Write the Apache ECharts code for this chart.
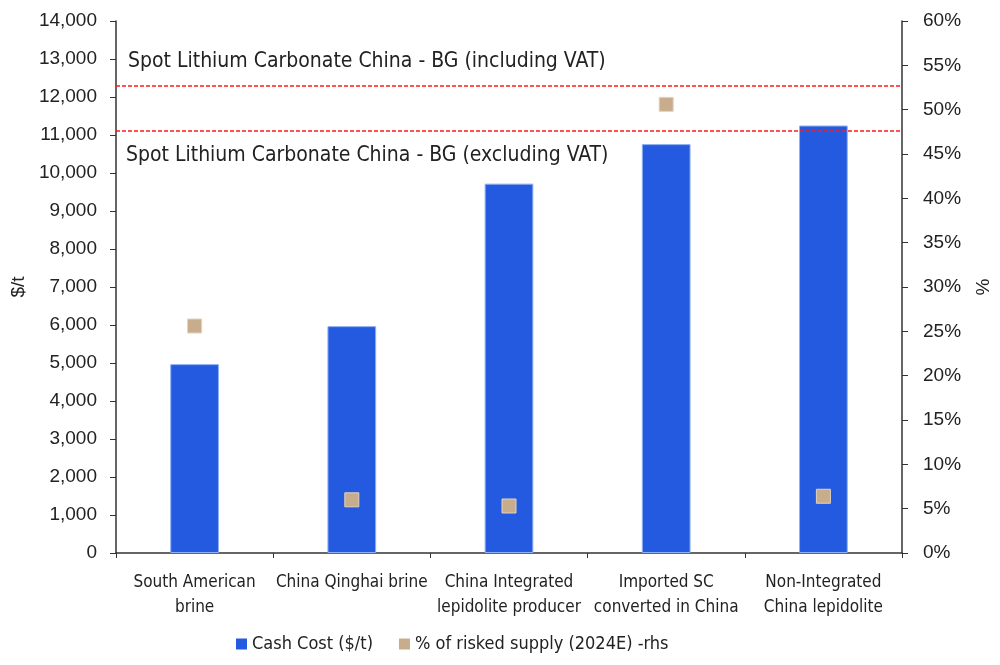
<!DOCTYPE html>
<html>
<head>
<meta charset="utf-8">
<script src="https://cdn.jsdelivr.net/npm/echarts@6/dist/echarts.min.js"></script>
<style>
  html, body { margin: 0; padding: 0; background: #fff; }
  #chart { width: 1000px; height: 665px; }
</style>
</head>
<body>
<div id="chart"></div>
<script>
var categories = ['South American\nbrine', 'China Qinghai brine', 'China Integrated\nlepidolite producer', 'Imported SC\nconverted in China', 'Non-Integrated\nChina lepidolite'];
var cashCost = [4970, 5970, 9720, 10760, 11250];
var riskedSupply = [25.6, 6.0, 5.3, 50.6, 6.4];
var spotInclVat = 12290;
var spotExclVat = 11110;

var narrow = '"Liberation Sans Narrow", "DejaVu Sans Condensed", sans-serif';
var plain = '"Liberation Sans", Arial, sans-serif';
var axisColor = '#333';

var dom_chart = document.getElementById('chart');
var chart = echarts.init(dom_chart);

var option = {
    animation: false,
    textStyle: {fontFamily: narrow},
    grid: {left: 116, right: 98, top: 21, bottom: 112, containLabel: false, outerBoundsMode: 'none'},
    legend: {
        bottom: 7, left: 231, itemWidth: 11, itemHeight: 11, itemGap: 26,
        textStyle: {fontSize: 18, color: '#222', fontFamily: narrow},
        itemStyle: {borderWidth: 0},
        data: [
            {name: 'Cash Cost ($/t)', icon: 'rect'},
            {name: '% of risked supply (2024E) -rhs', icon: 'rect'}
        ]
    },
    xAxis: {
        type: 'category',
        data: categories,
        axisLine: {lineStyle: {color: axisColor, width: 1.5}},
        axisTick: {show: true, length: 5, lineStyle: {color: axisColor}},
        axisLabel: {fontSize: 17, color: '#222', margin: 17, lineHeight: 25, interval: 0}
    },
    yAxis: [{
        type: 'value', min: 0, max: 14000, interval: 1000,
        name: '$/t', nameLocation: 'middle', nameGap: 86, nameRotate: 90,
        nameTextStyle: {fontSize: 19, color: '#222', fontFamily: plain},
        axisLine: {show: true, lineStyle: {color: axisColor, width: 1.5}},
        axisTick: {show: true, length: 6, lineStyle: {color: axisColor}},
        axisLabel: {fontSize: 19, color: '#222', margin: 19, fontFamily: plain,
            formatter: function (v) { return v.toLocaleString('en-US'); }},
        splitLine: {show: false}
    }, {
        type: 'value', min: 0, max: 60, interval: 5, position: 'right',
        name: '%', nameLocation: 'middle', nameGap: 72, nameRotate: 90,
        nameTextStyle: {fontSize: 19, color: '#222', fontFamily: plain},
        axisLine: {show: true, lineStyle: {color: axisColor, width: 1.5}},
        axisTick: {show: true, length: 6, lineStyle: {color: axisColor}},
        axisLabel: {fontSize: 19, color: '#222', margin: 21, fontFamily: plain, formatter: '{value}%'},
        splitLine: {show: false}
    }],
    series: [{
        name: 'Cash Cost ($/t)',
        type: 'bar',
        barWidth: '31%',
        data: cashCost,
        itemStyle: {color: '#245ADF', borderColor: '#8FB1F2', borderWidth: 1},
        markLine: {
            silent: true, symbol: 'none', label: {show: false},
            lineStyle: {color: '#FF1A1A', type: [4, 2], width: 1.5},
            data: [{yAxis: spotInclVat}, {yAxis: spotExclVat}]
        }
    }, {
        name: '% of risked supply (2024E) -rhs',
        type: 'scatter',
        yAxisIndex: 1,
        symbol: 'rect',
        symbolSize: 14,
        data: riskedSupply,
        itemStyle: {color: '#C8AD8C', borderColor: '#E2D2BE', borderWidth: 1, opacity: 1}
    }],
    graphic: [{
        type: 'text', left: 128, top: 51,
        style: {text: 'Spot Lithium Carbonate China - BG (including VAT)', fontSize: 21, fill: '#222', fontFamily: narrow}
    }, {
        type: 'text', left: 126, top: 145,
        style: {text: 'Spot Lithium Carbonate China - BG (excluding VAT)', fontSize: 21, fill: '#222', fontFamily: narrow}
    }]
};

chart.setOption(option);
</script>
</body>
</html>
